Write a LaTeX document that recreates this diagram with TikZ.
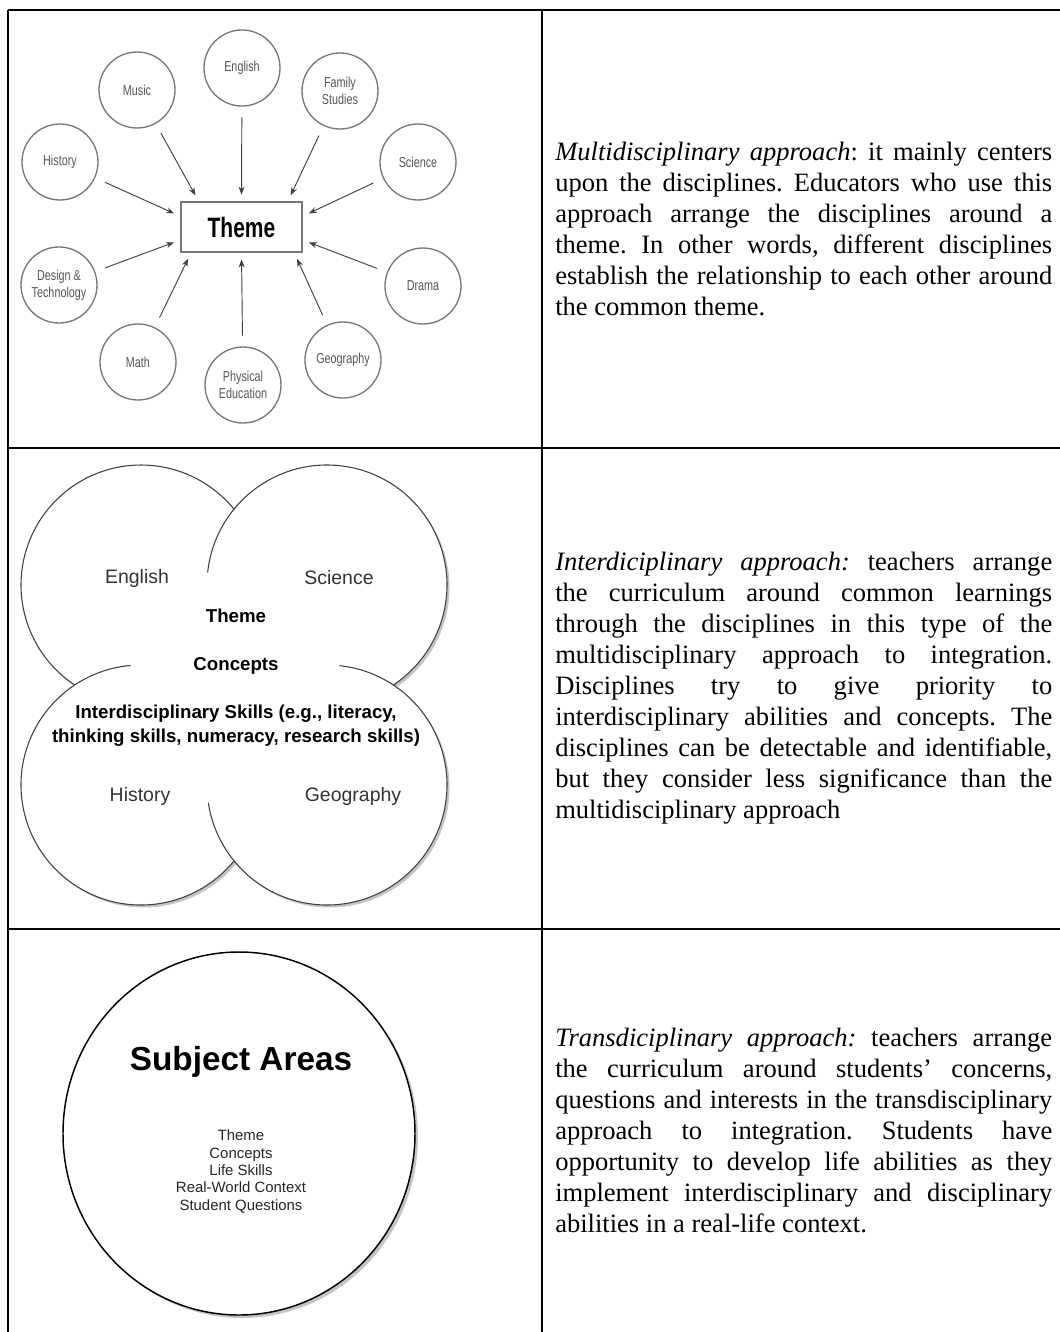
\documentclass[tikz,border=0pt]{standalone}
\usepackage{fontspec}
\setmainfont{Liberation Serif}
\newfontfamily\diagsans{Liberation Sans}
\newfontfamily\condsans[FakeStretch=0.75]{Liberation Sans}
\usetikzlibrary{arrows.meta}
\definecolor{ringgray}{HTML}{777777}
\definecolor{labelgray}{HTML}{555555}
\definecolor{shadowgray}{HTML}{C4C4C4}
\tikzset{
  table rule/.style={line width=1.5pt},
  subject/.style={circle, draw=ringgray, line width=1pt, minimum size=57pt, inner sep=0pt,
    align=center, text=labelgray, font=\condsans\fontsize{10.8}{12.5}\selectfont},
  theme box/.style={draw=ringgray, line width=1.1pt, minimum width=90.75pt, minimum height=37.5pt,
    font=\condsans\bfseries\fontsize{21}{21}\selectfont},
  feed/.style={-{Stealth[length=6pt,width=4.5pt]}, draw=black!75, line width=0.7pt,
    shorten <=8pt, shorten >=5pt},
  petal/.style={line width=0.8pt, draw=black!75},
  petal label/.style={font=\diagsans\fontsize{14.6}{18}\selectfont, text=black!80},
  core label/.style={font=\diagsans\bfseries\fontsize{14}{18}\selectfont, align=center},
  desc/.style={anchor=west, inner sep=0pt, text width=372.75pt, align=justify,
    font=\fontsize{19.9}{23.25}\selectfont,
    execute at begin node={\hyphenpenalty=10000\relax\frenchspacing}},
}

\begin{document}
\begin{tikzpicture}[x=0.75pt, y=-0.75pt]
  \useasboundingbox (0,0) rectangle (1060,1332);

  % multidisciplinary: subjects around the theme
  \node[subject] (english)   at (242,68)  {English};
  \node[subject] (music)     at (137,90)  {Music};
  \node[subject] (family)    at (340,91)  {Family\\Studies};
  \node[subject] (history)   at (60,162)  {History};
  \node[subject] (science)   at (418,162) {Science};
  \node[subject] (design)    at (59,285)  {Design \&\\Technology};
  \node[subject] (drama)     at (423,286) {Drama};
  \node[subject] (math)      at (138,362) {Math};
  \node[subject] (physed)    at (243,385) {Physical\\Education};
  \node[subject] (geography) at (343,360) {Geography};
  \node[theme box] (theme) at (241.5,227) {Theme};
  \foreach \s/\a in {english/90, music/149, family/29, history/170, science/10,
                     design/192, drama/348, math/207, physed/270, geography/334}
    \draw[feed] (\s) -- (theme.\a);

  % interdisciplinary: four overlapping circles
  \coordinate (tl) at (141,585);  \coordinate (tr) at (327,585);
  \coordinate (bl) at (141,785);  \coordinate (br) at (327,785);
  \foreach \c in {tl,tr,bl,br}
    \fill[shadowgray] ([shift={(2.5,2.5)}]\c) circle[radius=120];
  \foreach \c in {tl,tr,bl,br}
    \fill[white] (\c) circle[radius=120];
  \fill[white] (tl) rectangle (br);
  \draw[petal] (tl) ++(-39.2:120) arc[start angle=-39.2, end angle=-236.5, radius=120];
  \draw[petal] (tr) ++(-174:120)  arc[start angle=-174,  end angle=56.5,   radius=120];
  \draw[petal] (bl) ++(-95:120)   arc[start angle=-95,   end angle=-320.8, radius=120];
  \draw[petal] (br) ++(-84:120)   arc[start angle=-84,   end angle=171.5,  radius=120];
  \node[petal label] (p-english)   at (137,578) {English};
  \node[petal label] (p-science)   at (339,578) {Science};
  \node[core label]  (p-theme)     at (236,616) {Theme};
  \node[core label]  (p-concepts)  at (236,666) {Concepts};
  \node[core label]  (p-skills)    at (236,726) {Interdisciplinary Skills (e.g., literacy,\\thinking skills, numeracy, research skills)};
  \node[petal label] (p-history)   at (140,796) {History};
  \node[petal label] (p-geography) at (353,796) {Geography};

  % transdisciplinary: one circle
  \fill[shadowgray] (242,1136.5) ellipse[x radius=176, y radius=181.5];
  \filldraw[fill=white, draw=black, line width=1.1pt] (239,1133.5) ellipse[x radius=176, y radius=181.5];
  \node[font=\diagsans\bfseries\fontsize{25}{30}\selectfont] (areas) at (241,1062) {Subject Areas};
  \node[align=center, text=black!85, font=\diagsans\fontsize{11.2}{13}\selectfont] (strands) at (241,1171.5)
    {Theme\\Concepts\\Life Skills\\Real-World Context\\Student Questions};

  % descriptions
  \node[desc] (multi-text) at (555,229) {\textit{Multidisciplinary approach}: it mainly centers\linebreak
    upon the disciplines. Educators who use this\linebreak approach arrange the disciplines around a\linebreak
    theme. In other words, different disciplines\linebreak establish the relationship to each other around\linebreak
    the common theme.};
  \node[desc] (inter-text) at (555,688) {\textit{Interdiciplinary approach:} teachers arrange\linebreak
    the curriculum around common learnings\linebreak through the disciplines in this type of the\linebreak
    multidisciplinary approach to integration.\linebreak Disciplines try to give priority to\linebreak
    interdisciplinary abilities and concepts. The\linebreak disciplines can be detectable and identifiable,\linebreak
    but they consider less significance than the\linebreak multidisciplinary approach};
  \node[desc] (trans-text) at (555,1130) {\textit{Transdiciplinary approach:} teachers arrange\linebreak
    the curriculum around students’ concerns,\linebreak questions and interests in the transdisciplinary\linebreak
    approach to integration. Students have\linebreak opportunity to develop life abilities as they\linebreak
    implement interdisciplinary and disciplinary\linebreak abilities in a real-life context.};

  % table rules
  \draw[table rule] (8,10) -- (1060,10);
  \draw[table rule] (8,448) -- (1060,448);
  \draw[table rule] (8,929) -- (1060,929);
  \draw[table rule] (8,10) -- (8,1332);
  \draw[table rule] (542,10) -- (542,1332);
\end{tikzpicture}
\end{document}
